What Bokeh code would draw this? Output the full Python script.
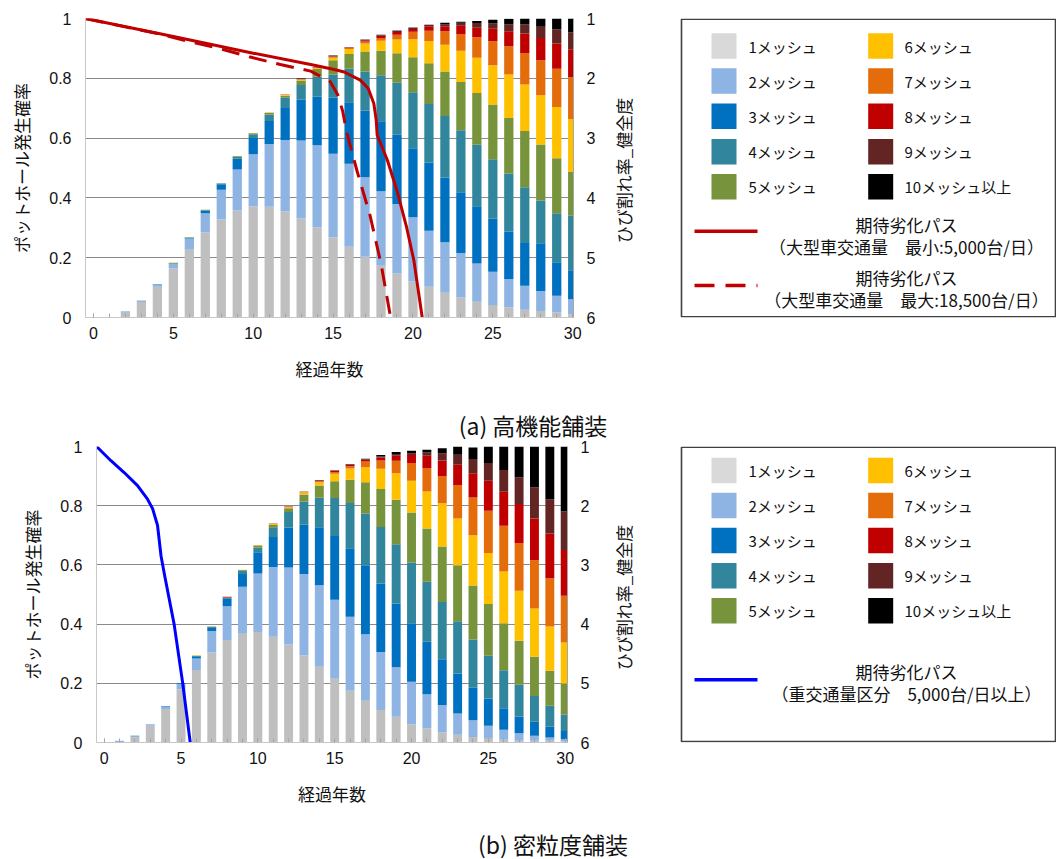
import math
from bokeh.plotting import figure
from bokeh.models import (Range1d, LinearAxis, FixedTicker, ColumnDataSource,
                          CustomJSTickFormatter)
from bokeh.layouts import column, row
from bokeh.embed import file_html
from bokeh.resources import INLINE
from bokeh.core.properties import value

# ---------------- data ----------------
years = list(range(31))
x_ticks = [0, 5, 10, 15, 20, 25, 30]
y_ticks = [0, 0.2, 0.4, 0.6, 0.8, 1.0]
health_ticks = [1, 2, 3, 4, 5, 6]

mesh_keys = ["m1", "m2", "m3", "m4", "m5", "m6", "m7", "m8", "m9", "m10"]
mesh_labels = ["1メッシュ", "2メッシュ", "3メッシュ", "4メッシュ", "5メッシュ",
               "6メッシュ", "7メッシュ", "8メッシュ", "9メッシュ", "10メッシュ以上"]
mesh_colors = ["#bfbfbf", "#8eb4e3", "#0070c0", "#31859c", "#77933c",
               "#ffc000", "#e46c0a", "#c00000", "#632523", "#000000"]
swatch_colors = ["#d9d9d9", "#8eb4e3", "#0070c0", "#31859c", "#77933c",
                 "#ffc000", "#e46c0a", "#c00000", "#632523", "#000000"]

# (a) 高機能舗装 : pothole probability by mesh count
a_m1 = [0, 0, 0.016, 0.052, 0.103, 0.164, 0.227, 0.285, 0.328, 0.358, 0.372, 0.370, 0.355, 0.331, 0.302, 0.268,
        0.237, 0.203, 0.173, 0.147, 0.120, 0.103, 0.083, 0.067, 0.053, 0.042, 0.034, 0.026, 0.022, 0.017, 0.011]
a_m2 = [0, 0.002, 0.003, 0.003, 0.008, 0.016, 0.037, 0.064, 0.099, 0.137, 0.174, 0.210, 0.239, 0.261, 0.274, 0.280,
        0.277, 0.266, 0.249, 0.233, 0.215, 0.187, 0.169, 0.149, 0.128, 0.111, 0.095, 0.080, 0.067, 0.056, 0.050]
a_m3 = [0, 0, 0.001, 0.001, 0.001, 0.001, 0.002, 0.009, 0.019, 0.036, 0.054, 0.077, 0.107, 0.136, 0.162, 0.188,
        0.206, 0.223, 0.234, 0.231, 0.231, 0.228, 0.216, 0.203, 0.191, 0.177, 0.159, 0.143, 0.159, 0.112, 0.097]
a_m4 = [0, 0, 0, 0, 0, 0.001, 0.001, 0.001, 0.002, 0.006, 0.013, 0.022, 0.034, 0.050, 0.067, 0.077,
        0.113, 0.131, 0.154, 0.174, 0.187, 0.196, 0.206, 0.207, 0.206, 0.199, 0.194, 0.187, 0.143, 0.164, 0.182]
a_m5 = [0, 0, 0, 0, 0, 0, 0.001, 0.001, 0.001, 0.002, 0.003, 0.005, 0.007, 0.015, 0.026, 0.047,
        0.048, 0.067, 0.082, 0.099, 0.117, 0.136, 0.149, 0.162, 0.173, 0.183, 0.185, 0.188, 0.188, 0.184, 0.147]
a_m6 = [0, 0, 0, 0, 0, 0.002, 0, 0, 0, 0, 0.001, 0.001, 0.002, 0.003, 0.004, 0.009,
        0.017, 0.026, 0.034, 0.046, 0.061, 0.075, 0.089, 0.104, 0.118, 0.132, 0.146, 0.155, 0.164, 0.171, 0.177]
a_m7 = [0, 0, 0, 0, 0, 0, 0, 0, 0, 0, 0, 0.001, 0.001, 0.001, 0.001, 0.003,
        0.003, 0.007, 0.009, 0.016, 0.025, 0.034, 0.045, 0.056, 0.068, 0.080, 0.094, 0.106, 0.117, 0.128, 0.140]
a_m8 = [0, 0, 0, 0, 0, 0, 0, 0, 0, 0, 0, 0, 0.001, 0.001, 0.001, 0.002,
        0.002, 0.004, 0.007, 0.009, 0.009, 0.015, 0.017, 0.028, 0.032, 0.042, 0.050, 0.065, 0.075, 0.084, 0.093]
a_m9 = [0, 0, 0, 0, 0, 0, 0, 0, 0, 0, 0, 0, 0, 0.001, 0.001, 0.001,
        0.001, 0.002, 0.003, 0.004, 0.004, 0.004, 0.006, 0.010, 0.016, 0.017, 0.023, 0.030, 0.037, 0.048, 0.056]
a_m10 = [0, 0, 0, 0, 0, 0, 0, 0, 0, 0, 0, 0, 0, 0.001, 0, 0.001,
         0, 0.001, 0.001, 0.001, 0.001, 0.001, 0.006, 0.003, 0.007, 0.013, 0.019, 0.020, 0.028, 0.036, 0.047]

# (b) 密粒度舗装
b_m1 = [0, 0.002, 0.019, 0.057, 0.113, 0.180, 0.245, 0.304, 0.346, 0.367, 0.373, 0.357, 0.331, 0.295, 0.256, 0.215,
        0.175, 0.141, 0.110, 0.087, 0.062, 0.048, 0.034, 0.026, 0.019, 0.015, 0.009, 0.006, 0.006, 0.006, 0.003]
b_m2 = [0, 0.004, 0.003, 0.005, 0.009, 0.018, 0.039, 0.073, 0.114, 0.159, 0.198, 0.236, 0.260, 0.274, 0.275, 0.267,
        0.250, 0.225, 0.196, 0.167, 0.143, 0.115, 0.093, 0.072, 0.056, 0.042, 0.034, 0.025, 0.017, 0.011, 0.008]
b_m3 = [0, 0, 0.001, 0, 0.001, 0.002, 0.007, 0.012, 0.027, 0.043, 0.072, 0.101, 0.135, 0.167, 0.196, 0.216,
        0.231, 0.233, 0.231, 0.216, 0.198, 0.177, 0.154, 0.135, 0.110, 0.092, 0.073, 0.057, 0.047, 0.036, 0.028]
b_m4 = [0, 0, 0, 0, 0, 0, 0.001, 0.002, 0.002, 0.012, 0.016, 0.033, 0.053, 0.078, 0.100, 0.128,
        0.153, 0.175, 0.191, 0.200, 0.205, 0.203, 0.194, 0.177, 0.163, 0.144, 0.128, 0.107, 0.087, 0.071, 0.056]
b_m5 = [0, 0, 0, 0, 0, 0, 0.001, 0.001, 0.001, 0.002, 0.006, 0.008, 0.012, 0.024, 0.041, 0.057,
        0.079, 0.105, 0.128, 0.150, 0.169, 0.180, 0.187, 0.189, 0.182, 0.175, 0.159, 0.149, 0.133, 0.118, 0.104]
b_m6 = [0, 0, 0, 0, 0, 0, 0.002, 0.001, 0, 0.001, 0.001, 0.003, 0.004, 0.007, 0.011, 0.025,
        0.038, 0.051, 0.069, 0.090, 0.107, 0.125, 0.146, 0.158, 0.170, 0.172, 0.175, 0.169, 0.163, 0.150, 0.139]
b_m7 = [0, 0, 0, 0, 0, 0, 0, 0, 0, 0, 0.001, 0.001, 0.001, 0.002, 0.004, 0.006,
        0.007, 0.019, 0.028, 0.042, 0.060, 0.079, 0.092, 0.113, 0.128, 0.143, 0.154, 0.161, 0.163, 0.163, 0.158]
b_m8 = [0, 0, 0, 0, 0, 0, 0, 0, 0.002, 0, 0, 0.001, 0.001, 0.001, 0.002, 0.004,
        0.005, 0.006, 0.010, 0.017, 0.027, 0.042, 0.053, 0.068, 0.082, 0.101, 0.115, 0.132, 0.141, 0.151, 0.154]
b_m9 = [0, 0, 0, 0, 0, 0, 0, 0, 0, 0, 0, 0, 0, 0, 0.001, 0.002,
        0.002, 0.003, 0.003, 0.006, 0.006, 0.011, 0.024, 0.034, 0.048, 0.060, 0.074, 0.090, 0.105, 0.116, 0.130]
b_m10 = [0, 0, 0, 0, 0, 0, 0, 0, 0, 0, 0, 0, 0, 0, 0.001, 0,
         0.001, 0.001, 0.005, 0.006, 0.009, 0.009, 0.017, 0.029, 0.039, 0.056, 0.079, 0.105, 0.139, 0.178, 0.221]

# expected deterioration paths (elapsed years on the bar axis, health grade 1-6)
a_min_x = [-0.5, 5.0, 10.0, 13.6, 15.0, 15.7, 16.7, 17.2, 17.55, 17.7, 17.76, 18.4, 19.0, 19.6, 20.06, 20.58]
a_min_h = [1.0, 1.30, 1.58, 1.77, 1.85, 1.895, 2.03, 2.17, 2.42, 2.70, 2.95, 3.37, 3.88, 4.49, 5.05, 6.0]
a_max_x = [-0.5, 2.0, 4.0, 5.9, 7.85, 9.75, 11.7, 13.6, 14.8, 15.3, 15.6, 15.85, 16.5, 17.3, 18.0, 18.6]
a_max_h = [1.0, 1.14, 1.25, 1.38, 1.50, 1.64, 1.77, 1.88, 2.05, 2.28, 2.55, 2.90, 3.55, 4.28, 5.10, 6.0]
b_path_x = [-0.5, 0.44, 1.3, 2.17, 2.82, 3.15, 3.47, 3.7, 3.95, 4.55, 5.1, 5.6]
b_path_h = [1.0, 1.24, 1.44, 1.66, 1.89, 2.05, 2.33, 2.85, 3.2, 4.0, 4.98, 6.0]

y_title = "ポットホール発生確率"
y2_title = "ひび割れ率_健全度"
x_title = "経過年数"
a_path_labels = [("期待劣化パス", "（大型車交通量　最小:5,000台/日）"),
                 ("期待劣化パス", "（大型車交通量　最大:18,500台/日）")]
b_path_labels = [("期待劣化パス", "（重交通量区分　5,000台/日以上）")]
captions = ["(a) 高機能舗装", "(b) 密粒度舗装"]

JP = "Noto Sans CJK JP"
NUM = "Liberation Sans"
SPLIT = 610  # page x where chart figure ends and side figure begins


def bare(fig):
    fig.axis.visible = False
    fig.grid.grid_line_color = None
    fig.outline_line_color = None
    fig.background_fill_color = "white"
    fig.border_fill_color = "white"


def make_panel(series, height, x_end, borders):
    left, right, top, bottom = borders
    p = figure(width=SPLIT, height=height, x_range=Range1d(-0.5, x_end), y_range=Range1d(0, 1),
               output_backend="svg", toolbar_location=None,
               min_border_left=left, min_border_right=right, min_border_top=top, min_border_bottom=bottom)
    p.outline_line_color = None
    p.background_fill_color = "white"
    p.border_fill_color = "white"
    p.xgrid.grid_line_color = None
    p.ygrid.ticker = FixedTicker(ticks=[0.2, 0.4, 0.6, 0.8, 1.0])
    p.ygrid.grid_line_color = "#8a8a8a"
    p.ygrid.grid_line_width = 1

    data = {"year": years}
    for k, s in zip(mesh_keys, series):
        data[k] = s
    src = ColumnDataSource(data)
    p.vbar_stack(mesh_keys, x="year", width=0.58, color=mesh_colors, line_color=None, source=src)

    xa = p.xaxis[0]
    xa.ticker = FixedTicker(ticks=x_ticks, minor_ticks=years)
    xa.major_tick_in = 4
    xa.major_tick_out = 0
    xa.minor_tick_in = 4
    xa.minor_tick_out = 0
    xa.major_tick_line_color = "#a6a6a6"
    xa.minor_tick_line_color = "#a6a6a6"
    xa.axis_line_color = "#c8c8c8"
    xa.major_label_text_font = NUM
    xa.major_label_text_font_size = "16px"
    xa.major_label_text_color = "#111111"
    xa.major_label_standoff = 9
    xa.axis_label = x_title
    xa.axis_label_text_font = JP
    xa.axis_label_text_font_size = "17px"
    xa.axis_label_text_font_style = "normal"
    xa.axis_label_text_color = "#111111"
    xa.axis_label_standoff = 14

    ya = p.yaxis[0]
    ya.ticker = FixedTicker(ticks=y_ticks)
    ya.formatter = CustomJSTickFormatter(code="return String(Math.round(tick*10)/10);")
    ya.major_tick_in = 0
    ya.major_tick_out = 0
    ya.minor_tick_line_color = None
    ya.axis_line_color = "#c8c8c8"
    ya.major_label_text_font = NUM
    ya.major_label_text_font_size = "16px"
    ya.major_label_text_color = "#111111"
    ya.major_label_standoff = 14
    ya.axis_label = y_title
    ya.axis_label_text_font = JP
    ya.axis_label_text_font_size = "17px"
    ya.axis_label_text_font_style = "normal"
    ya.axis_label_text_color = "#111111"
    ya.axis_label_standoff = 12

    p.extra_y_ranges = {"health": Range1d(start=6, end=1)}
    ra = LinearAxis(y_range_name="health", ticker=FixedTicker(ticks=health_ticks))
    ra.major_tick_in = 0
    ra.major_tick_out = 0
    ra.minor_tick_line_color = None
    ra.axis_line_color = "#a6a6a6"
    ra.major_label_text_font = NUM
    ra.major_label_text_font_size = "16px"
    ra.major_label_text_color = "#111111"
    ra.major_label_standoff = 13
    p.add_layout(ra, "right")
    return p


def make_side(height, frame_top, frame_bottom, y2_pos, box, rows_y, path_specs):
    # frame of this figure is aligned with the chart frame in the same row;
    # its ranges are expressed in page pixels
    lg = figure(width=1056 - SPLIT, height=height, x_range=Range1d(SPLIT, 1056),
                y_range=Range1d(frame_bottom, frame_top),
                output_backend="svg", toolbar_location=None,
                min_border_left=0, min_border_right=0, min_border_top=0, min_border_bottom=0)
    bare(lg)
    # secondary axis title (reads bottom to top)
    lg.text(x=[y2_pos[0]], y=[y2_pos[1]], text=[y2_title], angle=math.pi / 2,
            text_font=value(JP), text_font_size="17px", text_align="center",
            text_baseline="middle", text_color="#111111")
    bl, br, bt, bb = box
    lg.quad(left=[bl], right=[br], top=[bt], bottom=[bb], fill_color=None,
            line_color="#404040", line_width=1.6)
    sw_x = [723.5] * 5 + [880.2] * 5
    tx_x = [748.0] * 5 + [904.0] * 5
    sw_y = rows_y + rows_y
    lg.rect(x=sw_x, y=sw_y, width=25, height=25.5, fill_color=swatch_colors, line_color=None)
    lg.text(x=tx_x, y=sw_y, text=mesh_labels, text_font=value(JP), text_font_size="15px",
            text_baseline="middle", text_align="left", text_color="#111111")
    for (ly, color, dash, (t1, t2), t1y, t2y) in path_specs:
        lg.line(x=[694, 757], y=[ly, ly], line_color=color, line_width=3.5, line_dash=dash)
        lg.text(x=[906, 906], y=[t1y, t2y], text=[t1, t2], text_font=value(JP), text_font_size="17px",
                text_baseline="middle", text_align="center", text_color="#111111")
    return lg


def make_caption(height, page_top, text, cx, cy):
    c = figure(width=1056, height=height, x_range=Range1d(0, 1056),
               y_range=Range1d(page_top + height, page_top),
               output_backend="svg", toolbar_location=None,
               min_border_left=0, min_border_right=0, min_border_top=0, min_border_bottom=0)
    bare(c)
    c.text(x=[cx], y=[cy], text=[text], text_font=value(JP), text_font_size="23px",
           text_baseline="middle", text_align="center", text_color="#111111")
    return c


# ---------------- panel (a) ----------------
pa = make_panel([a_m1, a_m2, a_m3, a_m4, a_m5, a_m6, a_m7, a_m8, a_m9, a_m10],
                400, 30.05, (85, SPLIT - 573, 18, 83))
pa.line(a_min_x, a_min_h, y_range_name="health", line_color="#c00000", line_width=3)
pa.line(a_max_x, a_max_h, y_range_name="health", line_color="#c00000", line_width=3, line_dash="18 10")

la = make_side(400, 18, 317, (623, 170), (681, 1055, 18.8, 316.3), [45.5, 80.5, 115.8, 151.2, 186.2],
               [(230.7, "#c00000", "solid", a_path_labels[0], 223.5, 245.5),
                (285.0, "#c00000", "20 11", a_path_labels[1], 276.7, 298.5)])
cap_a = make_caption(40, 400, captions[0], 532.5, 424)

# ---------------- panel (b) ----------------
pb = make_panel([b_m1, b_m2, b_m3, b_m4, b_m5, b_m6, b_m7, b_m8, b_m9, b_m10],
                379, 30.15, (96, SPLIT - 567, 6, 77))
pb.line(b_path_x, b_path_h, y_range_name="health", line_color="#0000ff", line_width=3)

lb = make_side(379, 446, 742, (623, 597), (681, 1055, 446.8, 741.0), [470.0, 505.0, 540.0, 575.2, 610.2],
               [(679.3, "#0000ff", "solid", b_path_labels[0], 670.7, 693.3)])
cap_b = make_caption(40, 819, captions[1], 552.5, 843)

layout = column(row(pa, la), cap_a, row(pb, lb), cap_b)
open("out.html", "w").write(file_html(layout, INLINE))
